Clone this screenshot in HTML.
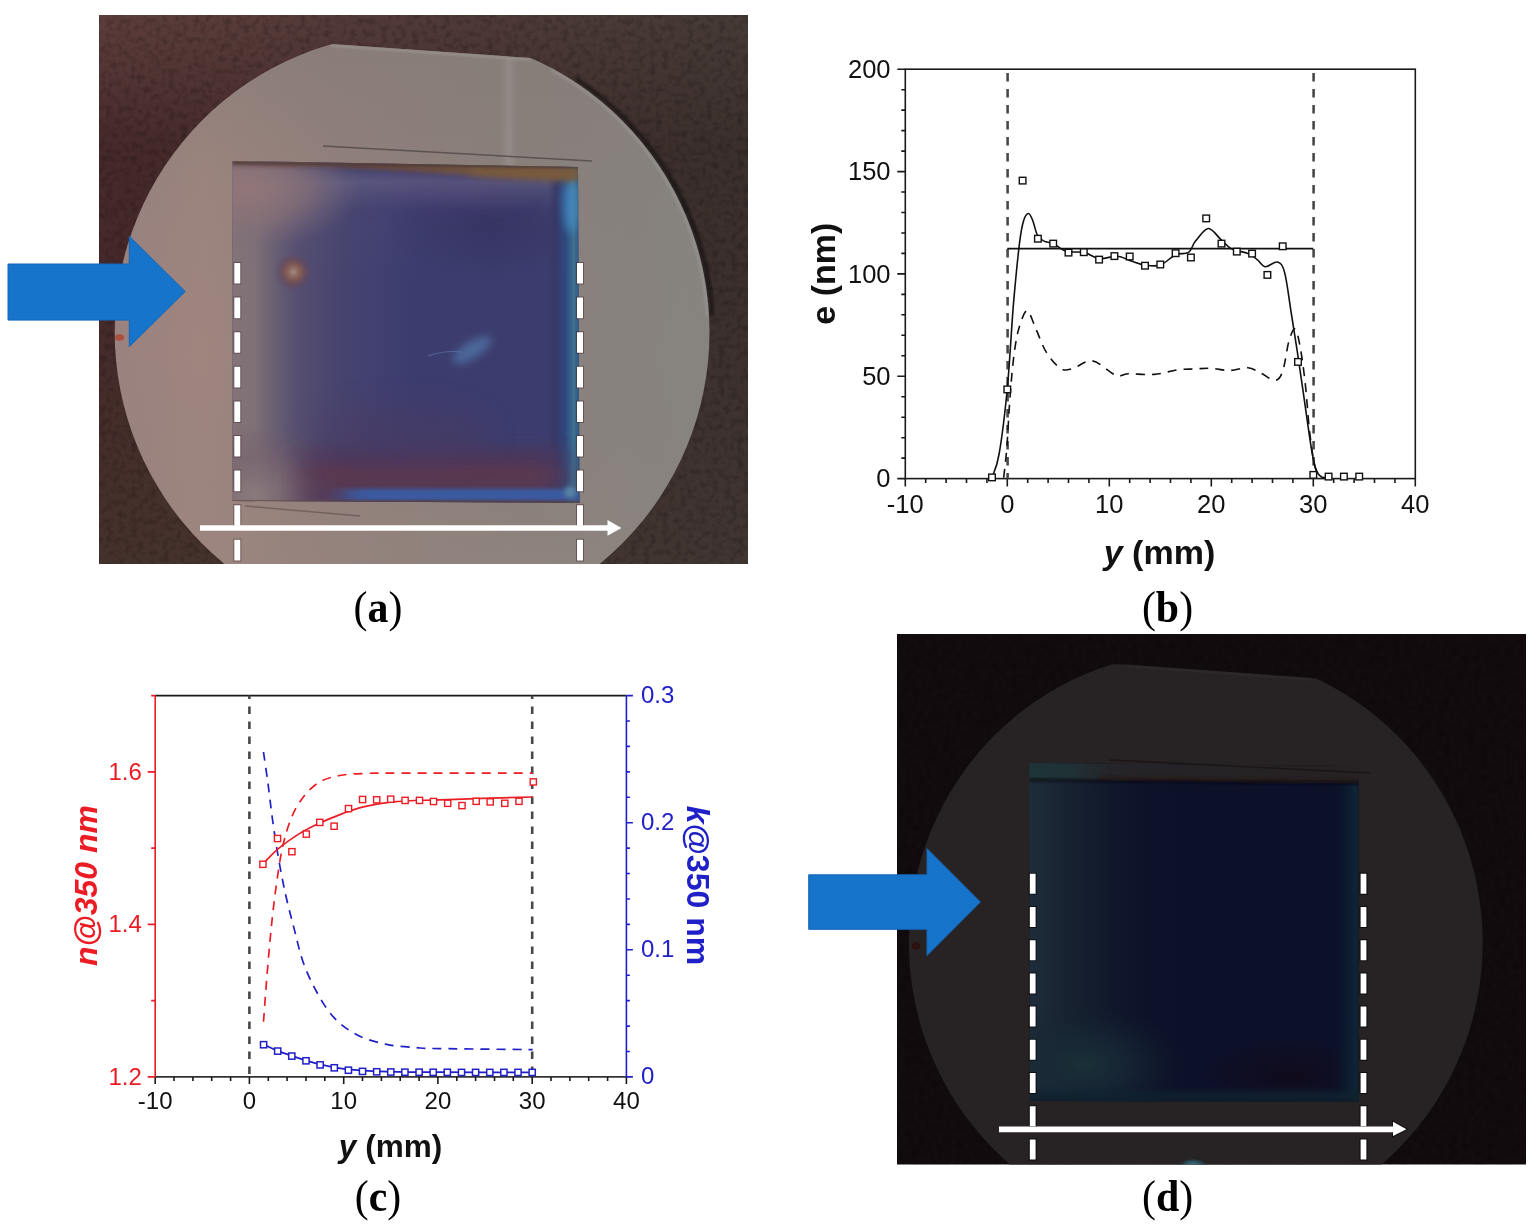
<!DOCTYPE html>
<html><head><meta charset="utf-8"><title>Figure</title>
<style>
html,body{margin:0;padding:0;background:#fff;}
body{width:1539px;height:1227px;overflow:hidden;position:relative;}
svg{position:absolute;left:0;top:0;}
.sans{font-family:"Liberation Sans",Arial,sans-serif;}
.serif{font-family:"Liberation Serif","Times New Roman",serif;}
</style></head><body>
<svg width="1539" height="1227" viewBox="0 0 1539 1227">

<defs>
<filter id="blur05" x="-5%" y="-50%" width="110%" height="200%"><feGaussianBlur stdDeviation="0.6"/></filter>
<filter id="blur1" x="-50%" y="-100%" width="200%" height="300%"><feGaussianBlur stdDeviation="1"/></filter>
<filter id="blur2" x="-50%" y="-100%" width="200%" height="300%"><feGaussianBlur stdDeviation="2"/></filter>
<filter id="blur4" x="-100%" y="-100%" width="300%" height="300%"><feGaussianBlur stdDeviation="4"/></filter>
<filter id="blur8" x="-50%" y="-50%" width="200%" height="200%"><feGaussianBlur stdDeviation="8"/></filter>
<filter id="blur14" x="-50%" y="-50%" width="200%" height="200%"><feGaussianBlur stdDeviation="14"/></filter>
<filter id="blur24" x="-50%" y="-50%" width="200%" height="200%"><feGaussianBlur stdDeviation="24"/></filter>
<filter id="blurX" x="-30%" y="-10%" width="160%" height="120%"><feGaussianBlur stdDeviation="16 2"/></filter>
<filter id="blurX2" x="-30%" y="-10%" width="160%" height="120%"><feGaussianBlur stdDeviation="12 1"/></filter>
<filter id="fabric" x="0" y="0" width="100%" height="100%" filterUnits="objectBoundingBox">
 <feTurbulence type="fractalNoise" baseFrequency="0.16 0.16" numOctaves="2" seed="7" result="n"/>
 <feColorMatrix in="n" type="matrix" values="0 0 0 0 0  0 0 0 0 0  0 0 0 0 0  0 0 0 -2.2 1.25" result="a"/>
 <feComposite in="SourceGraphic" in2="a" operator="in"/>
</filter>
<clipPath id="clipA"><rect x="99" y="15" width="649" height="549"/></clipPath>
<clipPath id="clipD"><rect x="897" y="634" width="629" height="530.5"/></clipPath>
<clipPath id="waferA"><path d="M0,32.4 L331,44 L531,58 L760,74 L760,600 L0,600 Z"/></clipPath>
<clipPath id="waferAc"><ellipse cx="412.1" cy="332" rx="297.4" ry="298.8"/></clipPath>
<clipPath id="waferD"><path d="M880,657 L1126,664.5 L1312,678 L1540,694 L1540,1200 L880,1200 Z"/></clipPath>
<clipPath id="waferDc"><ellipse cx="1195.8" cy="942.7" rx="286.9" ry="291.1"/></clipPath>
<clipPath id="filmA"><path d="M232.5,161 L578,167 L579.5,503 L232.5,501 Z"/></clipPath>
<clipPath id="filmD"><path d="M1029,763 L1359,766 L1359,1102 L1030,1101 Z"/></clipPath>
<linearGradient id="bgA" x1="0" y1="0" x2="1" y2="0">
 <stop offset="0" stop-color="#46292a"/><stop offset="0.45" stop-color="#422c2b"/><stop offset="1" stop-color="#3a302c"/>
</linearGradient>
<linearGradient id="bgAt" x1="0" y1="0" x2="1" y2="0">
 <stop offset="0" stop-color="#5c3e3c"/><stop offset="0.45" stop-color="#523a38"/><stop offset="1" stop-color="#453b36"/>
</linearGradient>
<linearGradient id="gT" gradientUnits="userSpaceOnUse" x1="0" y1="15" x2="0" y2="564">
 <stop offset="0" stop-color="#fff" stop-opacity="1"/><stop offset="0.08" stop-color="#fff" stop-opacity="0.7"/><stop offset="0.25" stop-color="#fff" stop-opacity="0"/>
</linearGradient>
<mask id="maskT" maskUnits="userSpaceOnUse" x="99" y="15" width="649" height="549"><rect x="99" y="15" width="649" height="549" fill="url(#gT)"/></mask>
<linearGradient id="bgAb" x1="0" y1="0" x2="1" y2="0">
 <stop offset="0" stop-color="#45322c"/><stop offset="0.45" stop-color="#45342f"/><stop offset="1" stop-color="#403632"/>
</linearGradient>
<linearGradient id="gV" gradientUnits="userSpaceOnUse" x1="0" y1="15" x2="0" y2="564">
 <stop offset="0" stop-color="#fff" stop-opacity="0"/><stop offset="0.45" stop-color="#fff" stop-opacity="0"/><stop offset="1" stop-color="#fff" stop-opacity="1"/>
</linearGradient>
<mask id="maskV" maskUnits="userSpaceOnUse" x="99" y="15" width="649" height="549"><rect x="99" y="15" width="649" height="549" fill="url(#gV)"/></mask>
<linearGradient id="bgAv" x1="0" y1="0" x2="0" y2="1">
 <stop offset="0" stop-color="#6a4040" stop-opacity="0.25"/><stop offset="0.5" stop-color="#6a4040" stop-opacity="0"/><stop offset="1" stop-color="#2a1a14" stop-opacity="0.2"/>
</linearGradient>
<linearGradient id="waferAg" gradientUnits="userSpaceOnUse" x1="115" y1="0" x2="710" y2="0">
 <stop offset="0" stop-color="#9a8280"/><stop offset="0.15" stop-color="#a0857f"/><stop offset="0.35" stop-color="#94807c"/><stop offset="0.65" stop-color="#8a807b"/><stop offset="1" stop-color="#878480"/>
</linearGradient>
<linearGradient id="waferAv" gradientUnits="userSpaceOnUse" x1="0" y1="40" x2="0" y2="564">
 <stop offset="0" stop-color="#857c78" stop-opacity="0.7"/><stop offset="0.25" stop-color="#857c78" stop-opacity="0.2"/><stop offset="0.6" stop-color="#857c78" stop-opacity="0"/><stop offset="1" stop-color="#978880" stop-opacity="0.3"/>
</linearGradient>
<linearGradient id="waferRefl" x1="0" y1="0" x2="1" y2="0">
 <stop offset="0" stop-color="#9a928f" stop-opacity="0"/><stop offset="0.5" stop-color="#9c9490" stop-opacity="0.55"/><stop offset="1" stop-color="#9a928f" stop-opacity="0"/>
</linearGradient>
<linearGradient id="filmAleft" gradientUnits="userSpaceOnUse" x1="233" y1="0" x2="420" y2="0">
 <stop offset="0" stop-color="#847477"/><stop offset="0.12" stop-color="#7e7076"/><stop offset="0.35" stop-color="#5e5470" stop-opacity="0.75"/><stop offset="0.6" stop-color="#544c70" stop-opacity="0.4"/><stop offset="1" stop-color="#4a4478" stop-opacity="0"/>
</linearGradient>
<linearGradient id="filmAtop" gradientUnits="userSpaceOnUse" x1="0" y1="165" x2="0" y2="280">
 <stop offset="0" stop-color="#7a7892" stop-opacity="0.0"/><stop offset="0.15" stop-color="#7a7892" stop-opacity="0.4"/><stop offset="0.4" stop-color="#6a6888" stop-opacity="0.08"/><stop offset="1" stop-color="#6a6888" stop-opacity="0"/>
</linearGradient>
<radialGradient id="filmAcorner" cx="0.5" cy="0.5" r="0.5">
 <stop offset="0" stop-color="#927678"/><stop offset="0.5" stop-color="#8a7278" stop-opacity="0.7"/><stop offset="1" stop-color="#7a6a78" stop-opacity="0"/>
</radialGradient>
<radialGradient id="filmAcorner2" cx="0.5" cy="0.5" r="0.5">
 <stop offset="0" stop-color="#8a7a7c"/><stop offset="0.5" stop-color="#7a6670" stop-opacity="0.7"/><stop offset="1" stop-color="#6a5a68" stop-opacity="0"/>
</radialGradient>
<linearGradient id="filmAmaroon" gradientUnits="userSpaceOnUse" x1="0" y1="436" x2="0" y2="502">
 <stop offset="0" stop-color="#4a3558" stop-opacity="0"/><stop offset="0.3" stop-color="#4d3556" stop-opacity="0.75"/><stop offset="0.55" stop-color="#5a3850" stop-opacity="1"/><stop offset="0.8" stop-color="#563852" stop-opacity="0.95"/><stop offset="1" stop-color="#503858" stop-opacity="0.9"/>
</linearGradient>
<linearGradient id="filmAblue" gradientUnits="userSpaceOnUse" x1="0" y1="486" x2="0" y2="502">
 <stop offset="0" stop-color="#3a5aa0" stop-opacity="0"/><stop offset="0.35" stop-color="#3a5ca4" stop-opacity="0.95"/><stop offset="0.75" stop-color="#3a5ca4" stop-opacity="0.95"/><stop offset="1" stop-color="#4a4a70" stop-opacity="0.6"/>
</linearGradient>
<linearGradient id="filmAright" gradientUnits="userSpaceOnUse" x1="548" y1="0" x2="580" y2="0">
 <stop offset="0" stop-color="#383564" stop-opacity="0"/><stop offset="0.25" stop-color="#363868" stop-opacity="0.8"/><stop offset="0.55" stop-color="#2e4a80"/><stop offset="0.8" stop-color="#3e7090"/><stop offset="0.92" stop-color="#34608a"/><stop offset="1" stop-color="#3a4a6a"/>
</linearGradient>
<linearGradient id="filmAtopedge" gradientUnits="userSpaceOnUse" x1="0" y1="160" x2="0" y2="184">
 <stop offset="0" stop-color="#6a4a40"/><stop offset="0.25" stop-color="#7a5844" stop-opacity="0.9"/><stop offset="0.5" stop-color="#7a5a50" stop-opacity="0.35"/><stop offset="1" stop-color="#7a5a50" stop-opacity="0"/>
</linearGradient>
<radialGradient id="spotA" cx="0.5" cy="0.5" r="0.5">
 <stop offset="0" stop-color="#a08a88"/><stop offset="0.15" stop-color="#96726a"/><stop offset="0.4" stop-color="#84584e" stop-opacity="0.85"/><stop offset="0.7" stop-color="#664858" stop-opacity="0.5"/><stop offset="1" stop-color="#5a4a68" stop-opacity="0"/>
</radialGradient>
<linearGradient id="topedgeG" gradientUnits="userSpaceOnUse" x1="232" y1="0" x2="580" y2="0">
 <stop offset="0" stop-color="#5e4040"/><stop offset="0.4" stop-color="#684838"/><stop offset="0.7" stop-color="#765638"/><stop offset="1" stop-color="#7a5a3a"/>
</linearGradient>
<radialGradient id="darkA" cx="0.5" cy="0.5" r="0.5">
 <stop offset="0" stop-color="#2e2c5a" stop-opacity="0.7"/><stop offset="1" stop-color="#2e2c5a" stop-opacity="0"/>
</radialGradient>
<linearGradient id="filmDleft" gradientUnits="userSpaceOnUse" x1="1029" y1="0" x2="1200" y2="0">
 <stop offset="0" stop-color="#1f2d3a"/><stop offset="0.3" stop-color="#17222f" stop-opacity="0.85"/><stop offset="0.6" stop-color="#121a2e" stop-opacity="0.4"/><stop offset="1" stop-color="#0c1029" stop-opacity="0"/>
</linearGradient>
<radialGradient id="filmDbl" cx="0.5" cy="0.5" r="0.5">
 <stop offset="0" stop-color="#1a3038"/><stop offset="0.5" stop-color="#182a36" stop-opacity="0.6"/><stop offset="1" stop-color="#15202e" stop-opacity="0"/>
</radialGradient>
<radialGradient id="filmDbr" cx="0.5" cy="0.5" r="0.5">
 <stop offset="0" stop-color="#110a1a" stop-opacity="0.85"/><stop offset="1" stop-color="#110a1a" stop-opacity="0"/>
</radialGradient>
<linearGradient id="filmDright" gradientUnits="userSpaceOnUse" x1="1330" y1="0" x2="1360" y2="0">
 <stop offset="0" stop-color="#0c1029" stop-opacity="0"/><stop offset="0.6" stop-color="#0c1c30"/><stop offset="0.85" stop-color="#0f2436"/><stop offset="1" stop-color="#151a24"/>
</linearGradient>
<linearGradient id="filmDbot" gradientUnits="userSpaceOnUse" x1="0" y1="1086" x2="0" y2="1102">
 <stop offset="0" stop-color="#0f2230" stop-opacity="0"/><stop offset="0.6" stop-color="#0f2230" stop-opacity="0.8"/><stop offset="1" stop-color="#101c28" stop-opacity="0.9"/>
</linearGradient>
<linearGradient id="filmDtopband" gradientUnits="userSpaceOnUse" x1="1029" y1="0" x2="1359" y2="0">
 <stop offset="0" stop-color="#1e3438"/><stop offset="0.12" stop-color="#1f3236"/><stop offset="0.25" stop-color="#252428"/><stop offset="1" stop-color="#262122"/>
</linearGradient>
<linearGradient id="filmDtop" gradientUnits="userSpaceOnUse" x1="0" y1="778" x2="0" y2="792">
 <stop offset="0" stop-color="#1a1316"/><stop offset="0.5" stop-color="#140f18" stop-opacity="0.8"/><stop offset="1" stop-color="#0c1029" stop-opacity="0"/>
</linearGradient>
<radialGradient id="filmDtl" cx="0.5" cy="0.5" r="0.5">
 <stop offset="0" stop-color="#224040"/><stop offset="1" stop-color="#1d3034" stop-opacity="0"/>
</radialGradient>
<radialGradient id="blobD" cx="0.5" cy="0.4" r="0.5">
 <stop offset="0" stop-color="#4a8a98"/><stop offset="0.6" stop-color="#2a5a68" stop-opacity="0.7"/><stop offset="1" stop-color="#1a2a30" stop-opacity="0"/>
</radialGradient>
</defs>

<g clip-path="url(#clipA)">
<rect x="99" y="15" width="649" height="549" fill="url(#bgA)"/>
<rect x="99" y="15" width="649" height="549" fill="url(#bgAt)" mask="url(#maskT)"/>
<rect x="99" y="15" width="649" height="549" fill="url(#bgAb)" mask="url(#maskV)"/>
<rect x="99" y="15" width="649" height="549" fill="#000" opacity="0.22" filter="url(#fabric)"/>
<g clip-path="url(#waferAc)"><g clip-path="url(#waferA)">
<rect x="110" y="30" width="610" height="540" fill="url(#waferAg)"/>
<rect x="110" y="30" width="610" height="540" fill="url(#waferAv)"/>
<rect x="500" y="58" width="18" height="110" fill="url(#waferRefl)"/>
<path d="M331,45.5 L531,59.5" stroke="#a4a496" stroke-width="2.5" opacity="0.55" filter="url(#blur1)"/>
</g></g>
<path d="M575.8,78.8 L581.7,82.7 L587.5,86.8 L593.2,91.1 L598.8,95.4 L604.3,99.9 L609.6,104.5 L614.9,109.2 L620.1,114.1 L625.1,119.1 L630.1,124.2 L634.9,129.4 L639.6,134.7 L644.1,140.2 L648.6,145.7 L652.9,151.4 L657.0,157.1 L661.1,163.0 L665.0,168.9 L668.7,174.9 L672.3,181.1 L675.8,187.3 L679.1,193.5 L682.3,199.9 L685.3,206.3 L688.2,212.8 L690.9,219.4 L693.5,226.0 L695.9,232.7 L698.1,239.5 L700.2,246.3 L702.2,253.1 L703.9,260.0 L705.5,266.9 L707.0,273.9 L708.3,280.9 L709.4,287.9 L710.3,294.9 L711.1,302.0 L711.7,309.1 L712.2,316.2" stroke="#0c0c0a" stroke-width="4" fill="none" opacity="0.6" filter="url(#blur1)"/>
<g clip-path="url(#waferAc)"><path d="M551.1,69.4 L557.7,73.1 L564.3,76.9 L570.8,81.0 L577.2,85.2 L583.5,89.5 L589.6,94.0 L595.7,98.7 L601.6,103.5 L607.4,108.5 L613.0,113.6 L618.6,118.9 L623.9,124.3 L629.2,129.8 L634.3,135.5 L639.3,141.3 L644.1,147.3 L648.7,153.3 L653.2,159.5 L657.6,165.8 L661.7,172.2 L665.8,178.7 L669.6,185.3 L673.3,192.0 L676.8,198.8 L680.1,205.7 L683.2,212.7 L686.2,219.8 L689.0,226.9 L691.6,234.1 L694.0,241.3 L696.2,248.7 L698.3,256.0 L700.1,263.5 L701.8,270.9 L703.3,278.4 L704.5,286.0 L705.6,293.6 L706.5,301.2 L707.2,308.8 L707.7,316.4" stroke="#a0a09a" stroke-width="4" fill="none" opacity="0.45" filter="url(#blur1)"/></g>
<g clip-path="url(#filmA)">
<rect x="228" y="158" width="355" height="348" fill="#3c3d6e"/>
<ellipse cx="490" cy="225" rx="110" ry="55" fill="url(#darkA)"/>
<ellipse cx="440" cy="185" rx="80" ry="18" fill="#45386e" opacity="0.7" filter="url(#blur14)"/>
<rect x="228" y="158" width="200" height="348" fill="url(#filmAleft)"/>
<rect x="228" y="158" width="355" height="120" fill="url(#filmAtop)"/>
<ellipse cx="250" cy="190" rx="110" ry="60" fill="url(#filmAcorner)"/>
<ellipse cx="255" cy="495" rx="110" ry="70" fill="url(#filmAcorner2)"/>
<rect x="548" y="160" width="32" height="345" fill="url(#filmAright)"/>
<rect x="300" y="436" width="262" height="66" fill="url(#filmAmaroon)" filter="url(#blurX)"/>
<ellipse cx="400" cy="435" rx="90" ry="30" fill="#4e3a60" opacity="0.45" filter="url(#blur14)"/>
<rect x="345" y="487" width="240" height="15" fill="url(#filmAblue)" filter="url(#blurX2)"/>
<ellipse cx="571" cy="205" rx="8" ry="28" fill="#4a92c8" opacity="0.7" filter="url(#blur4)"/>
<ellipse cx="570" cy="492" rx="6" ry="6" fill="#6a9ca8" opacity="0.6" filter="url(#blur2)"/>
<circle cx="293.5" cy="272" r="20" fill="url(#spotA)"/>
<ellipse cx="472" cy="350" rx="22" ry="8" fill="#5a8cc0" opacity="0.55" transform="rotate(-32 472 350)" filter="url(#blur4)"/>
<path d="M428,356 Q445,350 462,352" stroke="#6a8ac0" stroke-width="1.2" fill="none" opacity="0.5"/>
<path d="M232,161 L420,162.5 L580,166 L580,180 L520,178 L430,173 L330,167 L232,165.5 Z" fill="url(#topedgeG)" opacity="0.85" filter="url(#blur2)"/>
<path d="M470,168 L575,170 L575,182 L470,176 Z" fill="#7e5e3c" opacity="0.75" filter="url(#blur4)"/>
<path d="M232,162.5 L580,167" stroke="#4e3a34" stroke-width="2.5" fill="none" opacity="0.8" filter="url(#blur1)"/>
<path d="M232,501.5 L580,503" stroke="#5a4238" stroke-width="2.5" fill="none" filter="url(#blur1)"/>
<path d="M233,163 V500" stroke="#6a5458" stroke-width="2" fill="none" filter="url(#blur1)"/>
</g>
<path d="M577.5,168 V503" stroke="#5e4642" stroke-width="3" fill="none" filter="url(#blur1)"/>
<path d="M323,146 L592,161" stroke="#4a4444" stroke-width="1.5" opacity="0.75" filter="url(#blur05)"/>
<path d="M245,506 L360,516" stroke="#5a4d4c" stroke-width="1.4" opacity="0.6"/>
<path d="M237.3,262 V565 M580,262 V565" stroke="#3a2422" stroke-width="8" stroke-dasharray="22.6 12" opacity="0.45" filter="url(#blur05)"/>
<path d="M237.3,263 V564 M580,263 V564" stroke="#fff" stroke-width="6" stroke-dasharray="20.6 14"/>
<path d="M200,528 H609" stroke="#fff" stroke-width="5.5"/>
<path d="M607.5,520 L621.5,528 L607.5,535.8 Z" fill="#fff"/>
</g>
<ellipse cx="119.5" cy="337.5" rx="4.5" ry="3.2" fill="#b04028" opacity="0.75" filter="url(#blur05)"/>
<path d="M8,264 H129.3 V236.2 L185.2,291.5 L129.3,346.7 V320.1 H8 Z" fill="#1674ca" stroke="#1466b8" stroke-width="1"/>
<g clip-path="url(#clipD)">
<rect x="897" y="634" width="629" height="531" fill="#130c0e"/>
<rect x="897" y="634" width="629" height="531" fill="#000" opacity="0.25" filter="url(#fabric)"/>
<g clip-path="url(#waferDc)"><g clip-path="url(#waferD)">
<rect x="900" y="640" width="600" height="530" fill="#272223"/>
<path d="M1127,666 L1312,679.5" stroke="#3a3636" stroke-width="2" opacity="0.6" filter="url(#blur1)"/>
</g></g>
<g clip-path="url(#filmD)">
<rect x="1025" y="760" width="340" height="345" fill="#0c1029"/>
<rect x="1025" y="780" width="180" height="325" fill="url(#filmDleft)"/>
<ellipse cx="1085" cy="1065" rx="100" ry="60" fill="url(#filmDbl)"/>
<ellipse cx="1290" cy="1075" rx="90" ry="35" fill="url(#filmDbr)"/>
<rect x="1330" y="780" width="30" height="325" fill="url(#filmDright)"/>
<rect x="1025" y="758" width="340" height="22" fill="url(#filmDtopband)"/>
<path d="M1029,780 L1359,783" stroke="#0e0c18" stroke-width="3" opacity="0.8" filter="url(#blur1)"/>
<path d="M1100,778 L1359,781" stroke="#2a1a14" stroke-width="3" opacity="0.7" filter="url(#blur1)"/>
<rect x="1030" y="1086" width="330" height="16" fill="url(#filmDbot)"/>
<path d="M1029,1103 L1359,1104" stroke="#1e1412" stroke-width="4" filter="url(#blur1)"/>
</g>
<ellipse cx="916" cy="946" rx="4" ry="3.5" fill="#300a0a" opacity="0.9" filter="url(#blur05)"/>
<path d="M1110,760 L1370,773" stroke="#141010" stroke-width="1.4" opacity="0.7"/>
<path d="M1032.7,872.8 V1166 M1363.5,872.8 V1166" stroke="#000" stroke-width="8" stroke-dasharray="22 11.2" opacity="0.6" filter="url(#blur05)"/>
<path d="M1032.7,873.8 V1165 M1363.5,873.8 V1165" stroke="#fff" stroke-width="5.8" stroke-dasharray="20 13.2"/>
<path d="M998,1129.3 H1395" stroke="#000" stroke-width="8" opacity="0.6" filter="url(#blur05)"/>
<path d="M1392,1120 L1408.5,1129.3 L1392,1138 Z" fill="#000" opacity="0.5" filter="url(#blur05)"/>
<path d="M999,1129.3 H1395" stroke="#fff" stroke-width="5.8"/>
<path d="M1393,1121.7 L1406.4,1129.3 L1393,1136.1 Z" fill="#fff"/>
<ellipse cx="1193" cy="1168" rx="16" ry="9" fill="url(#blobD)"/>
</g>
<path d="M808.7,874.8 H927 V848.6 L980.4,902 L927,955.5 V929.3 H808.7 Z" fill="#1674ca" stroke="#1466b8" stroke-width="1"/>
<g class="sans" fill="none" stroke="#1a1a1a" stroke-width="1.6">
<rect x="905.3" y="69.2" width="510.0" height="409.4"/>
<path d="M905.3,478.6 v8 M925.7,478.6 v4.5 M946.1,478.6 v4.5 M966.5,478.6 v4.5 M986.9,478.6 v4.5 M1007.3,478.6 v8 M1027.7,478.6 v4.5 M1048.1,478.6 v4.5 M1068.5,478.6 v4.5 M1088.9,478.6 v4.5 M1109.3,478.6 v8 M1129.7,478.6 v4.5 M1150.1,478.6 v4.5 M1170.5,478.6 v4.5 M1190.9,478.6 v4.5 M1211.3,478.6 v8 M1231.7,478.6 v4.5 M1252.1,478.6 v4.5 M1272.5,478.6 v4.5 M1292.9,478.6 v4.5 M1313.3,478.6 v8 M1333.7,478.6 v4.5 M1354.1,478.6 v4.5 M1374.5,478.6 v4.5 M1394.9,478.6 v4.5 M1415.3,478.6 v8 M905.3,478.6 h-8 M905.3,458.1 h-4 M905.3,437.7 h-4 M905.3,417.2 h-4 M905.3,396.7 h-4 M905.3,376.2 h-8 M905.3,355.8 h-4 M905.3,335.3 h-4 M905.3,314.8 h-4 M905.3,294.4 h-4 M905.3,273.9 h-8 M905.3,253.4 h-4 M905.3,233.0 h-4 M905.3,212.5 h-4 M905.3,192.0 h-4 M905.3,171.6 h-8 M905.3,151.1 h-4 M905.3,130.6 h-4 M905.3,110.1 h-4 M905.3,89.7 h-4 M905.3,69.2 h-8"/>
</g>
<g class="sans" font-size="25.5" fill="#111" text-anchor="middle">
<text x="905.3" y="513.3">-10</text>
<text x="1007.3" y="513.3">0</text>
<text x="1109.3" y="513.3">10</text>
<text x="1211.3" y="513.3">20</text>
<text x="1313.3" y="513.3">30</text>
<text x="1415.3" y="513.3">40</text>
</g>
<g class="sans" font-size="25.5" fill="#111" text-anchor="end">
<text x="890.5" y="487.2">0</text>
<text x="890.5" y="384.9">50</text>
<text x="890.5" y="282.5">100</text>
<text x="890.5" y="180.2">150</text>
<text x="890.5" y="77.8">200</text>
</g>
<text class="sans" font-size="34" font-weight="bold" fill="#111" text-anchor="middle" x="1159.5" y="564"><tspan font-style="italic">y</tspan> (mm)</text>
<text class="sans" font-size="34" font-weight="bold" fill="#111" text-anchor="middle" transform="translate(834.6 273.7) rotate(-90)">e (nm)</text>
<path d="M1007.6,73.0 V478.6 M1313.6,73.0 V478.6" stroke="#4a4a4a" stroke-width="2.6" stroke-dasharray="8.5 7.5" fill="none"/>
<path d="M1007.3,248.7 H1313.3" stroke="#111" stroke-width="1.8" fill="none"/>
<path d="M992.0,477.6 C993.2,473.7 996.6,468.9 999.1,454.0 C1001.7,439.2 1004.9,413.4 1007.3,388.5 C1009.7,363.6 1011.4,328.8 1013.4,304.6 C1015.5,280.4 1017.8,257.2 1019.5,243.2 C1021.2,229.2 1022.1,225.6 1023.6,220.7 C1025.1,215.7 1027.0,213.5 1028.5,213.5 C1030.0,213.5 1031.3,217.0 1032.8,220.7 C1034.3,224.4 1035.7,232.2 1037.6,235.6 C1039.5,239.0 1041.4,239.8 1044.0,241.1 C1046.6,242.5 1049.5,241.9 1053.2,243.6 C1056.9,245.3 1061.4,249.9 1066.5,251.4 C1071.6,252.9 1078.4,251.2 1083.8,252.4 C1089.2,253.6 1094.2,257.9 1099.1,258.5 C1104.0,259.2 1109.8,256.8 1113.4,256.5 C1116.9,256.2 1117.3,255.9 1120.5,256.7 C1123.8,257.6 1128.7,260.2 1132.8,261.6 C1136.8,263.0 1140.4,264.5 1145.0,265.1 C1149.6,265.7 1155.2,266.8 1160.3,265.1 C1165.4,263.4 1170.9,256.8 1175.6,254.7 C1180.3,252.5 1185.2,254.7 1188.6,252.4 C1191.9,250.2 1192.2,245.1 1195.5,241.1 C1198.8,237.2 1204.1,228.8 1208.2,228.5 C1212.4,228.1 1216.6,235.7 1220.5,239.1 C1224.4,242.5 1227.1,246.5 1231.7,248.9 C1236.3,251.3 1243.8,251.7 1248.0,253.4 C1252.3,255.2 1254.3,257.4 1257.2,259.6 C1260.1,261.8 1262.0,266.3 1265.4,266.7 C1268.8,267.1 1274.4,261.0 1277.6,262.0 C1280.8,263.1 1282.4,264.2 1284.7,272.9 C1287.0,281.5 1289.1,299.6 1291.4,314.0 C1293.7,328.5 1296.2,344.5 1298.5,359.7 C1300.8,374.9 1302.9,390.1 1305.1,405.3 C1307.3,420.5 1309.9,440.1 1311.8,451.0 C1313.6,461.8 1314.7,466.1 1316.4,470.4 C1318.0,474.7 1319.4,475.7 1321.5,477.0 C1323.5,478.2 1327.4,477.8 1328.6,478.0" stroke="#111" stroke-width="1.6" fill="none"/>
<path d="M1003.7,477.6 C1004.2,472.6 1005.7,461.7 1006.8,447.9 C1007.9,434.1 1008.9,410.7 1010.2,394.7 C1011.4,378.6 1012.9,362.9 1014.4,351.7 C1016.0,340.4 1017.2,333.9 1019.3,327.1 C1021.5,320.3 1024.4,310.3 1027.2,310.7 C1030.0,311.2 1032.9,322.6 1036.2,329.6 C1039.4,336.6 1042.5,346.4 1046.7,352.9 C1050.8,359.4 1056.7,366.0 1061.1,368.7 C1065.4,371.3 1067.3,370.0 1072.6,368.7 C1077.8,367.4 1085.2,359.8 1092.5,360.9 C1099.7,362.0 1109.9,373.1 1115.9,375.2 C1122.0,377.4 1122.3,373.9 1128.7,373.8 C1135.1,373.7 1146.1,375.1 1154.2,374.4 C1162.3,373.8 1170.3,370.8 1177.2,369.9 C1184.1,369.0 1189.8,369.2 1195.5,368.9 C1201.2,368.6 1205.6,368.0 1211.3,368.3 C1217.0,368.5 1223.5,370.6 1229.7,370.5 C1235.8,370.4 1242.8,367.2 1248.0,367.7 C1253.3,368.1 1256.7,371.3 1261.3,373.4 C1265.8,375.5 1271.7,380.7 1275.3,380.3 C1278.8,380.0 1280.4,377.6 1282.7,371.1 C1285.0,364.7 1286.8,348.5 1288.8,341.5 C1290.9,334.4 1293.1,328.2 1294.9,329.0 C1296.8,329.7 1298.3,337.0 1300.0,346.0 C1301.7,354.9 1303.6,368.7 1305.1,382.4 C1306.7,396.1 1307.8,414.7 1309.2,428.0 C1310.7,441.3 1312.4,454.1 1313.9,462.2 C1315.4,470.4 1317.7,474.5 1318.4,477.0" stroke="#111" stroke-width="1.6" fill="none" stroke-dasharray="9 7"/>
<g fill="#fff" stroke="#111" stroke-width="1.4">
<rect x="988.7" y="474.1" width="6.6" height="6.6"/>
<rect x="1004.0" y="386.1" width="6.6" height="6.6"/>
<rect x="1019.3" y="177.3" width="6.6" height="6.6"/>
<rect x="1034.6" y="235.4" width="6.6" height="6.6"/>
<rect x="1049.9" y="240.3" width="6.6" height="6.6"/>
<rect x="1065.2" y="249.3" width="6.6" height="6.6"/>
<rect x="1080.5" y="248.9" width="6.6" height="6.6"/>
<rect x="1095.8" y="256.3" width="6.6" height="6.6"/>
<rect x="1111.1" y="252.8" width="6.6" height="6.6"/>
<rect x="1126.4" y="253.2" width="6.6" height="6.6"/>
<rect x="1141.7" y="262.4" width="6.6" height="6.6"/>
<rect x="1157.0" y="261.2" width="6.6" height="6.6"/>
<rect x="1172.3" y="249.9" width="6.6" height="6.6"/>
<rect x="1187.6" y="254.2" width="6.6" height="6.6"/>
<rect x="1202.9" y="215.1" width="6.6" height="6.6"/>
<rect x="1218.2" y="240.3" width="6.6" height="6.6"/>
<rect x="1233.5" y="248.3" width="6.6" height="6.6"/>
<rect x="1248.8" y="250.3" width="6.6" height="6.6"/>
<rect x="1264.1" y="271.6" width="6.6" height="6.6"/>
<rect x="1279.4" y="243.0" width="6.6" height="6.6"/>
<rect x="1294.7" y="358.6" width="6.6" height="6.6"/>
<rect x="1310.0" y="471.6" width="6.6" height="6.6"/>
<rect x="1325.3" y="473.3" width="6.6" height="6.6"/>
<rect x="1340.6" y="473.3" width="6.6" height="6.6"/>
<rect x="1355.9" y="473.3" width="6.6" height="6.6"/>
</g>
<path d="M155.2,695.6 H626.4" stroke="#1a1a1a" stroke-width="1.6" fill="none"/>
<path d="M155.2,1076.9 H626.4" stroke="#333" stroke-width="1.8" fill="none"/>
<path d="M155.2,1076.9 v7 M174.0,1076.9 v4 M192.9,1076.9 v4 M211.7,1076.9 v4 M230.6,1076.9 v4 M249.4,1076.9 v7 M268.3,1076.9 v4 M287.1,1076.9 v4 M306.0,1076.9 v4 M324.8,1076.9 v4 M343.7,1076.9 v7 M362.5,1076.9 v4 M381.4,1076.9 v4 M400.2,1076.9 v4 M419.1,1076.9 v4 M437.9,1076.9 v7 M456.8,1076.9 v4 M475.6,1076.9 v4 M494.5,1076.9 v4 M513.3,1076.9 v4 M532.2,1076.9 v7 M551.0,1076.9 v4 M569.9,1076.9 v4 M588.7,1076.9 v4 M607.6,1076.9 v4 M626.4,1076.9 v7" stroke="#1a1a1a" stroke-width="1.6" fill="none"/>
<path d="M155.2,695.6 V1076.9 M155.2,1076.9 h-7.5 M155.2,1000.6 h-4 M155.2,924.4 h-7.5 M155.2,848.1 h-4 M155.2,771.9 h-7.5 M155.2,695.6 h-4" stroke="#ec1c24" stroke-width="1.6" fill="none"/>
<path d="M626.4,695.6 V1076.9 M626.4,1076.9 h6.5 M626.4,1051.5 h3.5 M626.4,1026.1 h3.5 M626.4,1000.6 h3.5 M626.4,975.2 h3.5 M626.4,949.8 h6.5 M626.4,924.4 h3.5 M626.4,899.0 h3.5 M626.4,873.5 h3.5 M626.4,848.1 h3.5 M626.4,822.7 h6.5 M626.4,797.3 h3.5 M626.4,771.9 h3.5 M626.4,746.4 h3.5 M626.4,721.0 h3.5 M626.4,695.6 h6.5" stroke="#2020c8" stroke-width="1.6" fill="none"/>
<g class="sans" font-size="24" fill="#111" text-anchor="middle">
<text x="155.2" y="1108.5">-10</text>
<text x="249.4" y="1108.5">0</text>
<text x="343.7" y="1108.5">10</text>
<text x="437.9" y="1108.5">20</text>
<text x="532.2" y="1108.5">30</text>
<text x="626.4" y="1108.5">40</text>
</g>
<g class="sans" font-size="24" fill="#ec1c24" text-anchor="end">
<text x="141.8" y="1084.9">1.2</text>
<text x="141.8" y="932.4">1.4</text>
<text x="141.8" y="779.9">1.6</text>
</g>
<g class="sans" font-size="24" fill="#2020c8" text-anchor="start">
<text x="641" y="1084.4">0</text>
<text x="641" y="957.3">0.1</text>
<text x="641" y="830.2">0.2</text>
<text x="641" y="703.1">0.3</text>
</g>
<text class="sans" font-size="31.5" font-weight="bold" fill="#111" text-anchor="middle" x="390.5" y="1156.5"><tspan font-style="italic">y</tspan> (mm)</text>
<text class="sans" font-size="32" font-weight="bold" font-style="italic" fill="#ec1c24" text-anchor="middle" transform="translate(97 885.5) rotate(-90)">n@350 nm</text>
<text class="sans" font-size="32" font-weight="bold" fill="#2020c8" text-anchor="middle" transform="translate(686.6 885.5) rotate(90)"><tspan font-style="italic">k</tspan>@350 nm</text>
<path d="M249.4,695.6 V1076.9 M532.2,695.6 V1076.9" stroke="#484848" stroke-width="2.6" stroke-dasharray="7.5 7.5" stroke-dashoffset="4" fill="none"/>
<path d="M263.5,1021.8 C264.2,1012.3 266.4,982.0 267.9,964.6 C269.4,947.2 270.8,931.4 272.3,917.7 C273.8,904.0 275.0,894.2 276.7,882.5 C278.4,870.8 280.1,858.0 282.5,847.3 C284.9,836.5 287.9,826.3 291.3,818.0 C294.7,809.7 298.4,803.4 303.0,797.4 C307.6,791.4 313.1,785.9 319.2,782.2 C325.3,778.6 331.9,777.0 339.7,775.5 C347.5,774.0 356.1,773.8 366.1,773.4 C376.2,773.0 372.2,773.2 400.0,773.2 C427.8,773.2 510.6,773.2 532.7,773.2" stroke="#ec1c24" stroke-width="1.7" fill="none" stroke-dasharray="9 7"/>
<path d="M263.5,752.0 C264.2,757.1 266.4,771.8 267.9,782.8 C269.4,793.8 270.6,805.8 272.3,818.0 C274.0,830.2 275.9,843.4 278.1,856.1 C280.3,868.8 282.8,882.0 285.5,894.2 C288.2,906.4 291.4,918.1 294.3,929.4 C297.2,940.6 299.4,951.4 303.0,961.7 C306.6,972.0 311.1,981.7 316.2,991.0 C321.3,1000.3 326.9,1010.1 333.8,1017.4 C340.7,1024.7 348.5,1030.5 357.3,1035.0 C366.1,1039.5 376.8,1042.3 386.6,1044.4 C396.4,1046.5 407.2,1046.9 416.0,1047.6 C424.8,1048.3 419.9,1048.3 439.4,1048.6 C458.8,1048.9 517.2,1049.4 532.7,1049.6" stroke="#2020c8" stroke-width="1.7" fill="none" stroke-dasharray="9 7"/>
<path d="M263.5,863.4 C265.9,861.0 272.2,853.7 278.1,848.8 C284.0,843.9 291.9,838.4 298.7,834.1 C305.5,829.9 311.9,826.7 319.2,823.3 C326.5,819.9 335.3,816.4 342.6,813.6 C349.9,810.9 354.9,808.8 363.2,806.8 C371.5,804.8 379.8,803.0 392.5,801.8 C405.2,800.6 423.1,800.4 439.4,799.8 C455.6,799.2 474.4,798.7 490.0,798.2 C505.6,797.7 525.6,797.2 532.7,797.0" stroke="#ec1c24" stroke-width="1.7" fill="none"/>
<path d="M263.5,1044.4 C265.9,1045.5 273.2,1049.1 278.1,1051.1 C283.0,1053.0 287.9,1054.5 292.8,1056.1 C297.7,1057.7 302.5,1059.3 307.4,1060.8 C312.3,1062.3 317.2,1063.7 322.1,1064.9 C327.0,1066.1 330.9,1066.9 336.8,1067.8 C342.7,1068.7 349.0,1069.6 357.3,1070.2 C365.6,1070.8 372.9,1071.3 386.6,1071.6 C400.3,1071.9 415.0,1072.1 439.4,1072.2 C463.8,1072.3 517.2,1072.4 532.7,1072.4" stroke="#2020c8" stroke-width="1.8" fill="none"/>
<g fill="#fff" stroke="#ec1c24" stroke-width="1.4">
<rect x="259.8" y="861.2" width="6.2" height="6.2"/>
<rect x="274.4" y="835.4" width="6.2" height="6.2"/>
<rect x="288.8" y="848.6" width="6.2" height="6.2"/>
<rect x="303.2" y="831.0" width="6.2" height="6.2"/>
<rect x="316.7" y="819.3" width="6.2" height="6.2"/>
<rect x="331.0" y="823.1" width="6.2" height="6.2"/>
<rect x="345.4" y="805.5" width="6.2" height="6.2"/>
<rect x="359.5" y="796.4" width="6.2" height="6.2"/>
<rect x="373.6" y="796.7" width="6.2" height="6.2"/>
<rect x="387.6" y="796.1" width="6.2" height="6.2"/>
<rect x="402.0" y="797.3" width="6.2" height="6.2"/>
<rect x="416.4" y="797.3" width="6.2" height="6.2"/>
<rect x="430.4" y="798.4" width="6.2" height="6.2"/>
<rect x="444.6" y="800.2" width="6.2" height="6.2"/>
<rect x="458.9" y="802.5" width="6.2" height="6.2"/>
<rect x="473.1" y="798.2" width="6.2" height="6.2"/>
<rect x="487.1" y="798.8" width="6.2" height="6.2"/>
<rect x="501.7" y="800.2" width="6.2" height="6.2"/>
<rect x="515.9" y="798.2" width="6.2" height="6.2"/>
<rect x="530.2" y="778.8" width="6.2" height="6.2"/>
</g>
<g fill="#fff" stroke="#2020c8" stroke-width="1.5">
<rect x="260.5" y="1041.6" width="6.2" height="6.2"/>
<rect x="274.6" y="1048.0" width="6.2" height="6.2"/>
<rect x="288.7" y="1053.0" width="6.2" height="6.2"/>
<rect x="302.9" y="1057.7" width="6.2" height="6.2"/>
<rect x="317.0" y="1061.8" width="6.2" height="6.2"/>
<rect x="331.2" y="1064.7" width="6.2" height="6.2"/>
<rect x="345.3" y="1067.1" width="6.2" height="6.2"/>
<rect x="359.4" y="1068.3" width="6.2" height="6.2"/>
<rect x="373.6" y="1068.7" width="6.2" height="6.2"/>
<rect x="387.7" y="1068.9" width="6.2" height="6.2"/>
<rect x="401.8" y="1069.1" width="6.2" height="6.2"/>
<rect x="416.0" y="1069.1" width="6.2" height="6.2"/>
<rect x="430.1" y="1069.2" width="6.2" height="6.2"/>
<rect x="444.2" y="1069.2" width="6.2" height="6.2"/>
<rect x="458.4" y="1069.3" width="6.2" height="6.2"/>
<rect x="472.5" y="1069.3" width="6.2" height="6.2"/>
<rect x="486.7" y="1069.3" width="6.2" height="6.2"/>
<rect x="500.8" y="1069.3" width="6.2" height="6.2"/>
<rect x="514.9" y="1069.3" width="6.2" height="6.2"/>
<rect x="529.1" y="1069.3" width="6.2" height="6.2"/>
</g>
<text class="serif" font-size="45" fill="#000" text-anchor="middle" transform="translate(378 621.5) scale(0.93 1)">(<tspan font-weight="bold">a</tspan>)</text>
<text class="serif" font-size="45" fill="#000" text-anchor="middle" transform="translate(1167.5 621.5) scale(0.93 1)">(<tspan font-weight="bold">b</tspan>)</text>
<text class="serif" font-size="45" fill="#000" text-anchor="middle" transform="translate(378 1211) scale(0.93 1)">(<tspan font-weight="bold">c</tspan>)</text>
<text class="serif" font-size="45" fill="#000" text-anchor="middle" transform="translate(1167.6 1211) scale(0.93 1)">(<tspan font-weight="bold">d</tspan>)</text>
</svg></body></html>
